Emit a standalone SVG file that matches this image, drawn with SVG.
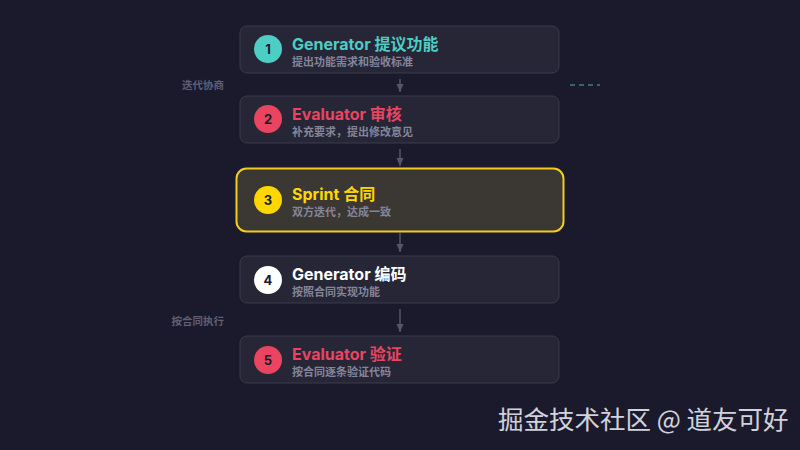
<svg xmlns="http://www.w3.org/2000/svg" width="800" height="450" viewBox="0 0 800 450">
<defs>
<style>
.box{fill:#262637;stroke:#3a3a4e;stroke-width:1}
.title{font-family:Inter,"Noto Sans CJK SC",sans-serif;font-size:16px;font-weight:700}
.sub{font-family:"Noto Sans CJK SC",sans-serif;font-size:11px;font-weight:700;fill:#85859a}
.num{font-family:Inter,sans-serif;font-size:13px;font-weight:700;fill:#1a1a2e;text-anchor:middle}
.side{font-family:"Noto Sans CJK SC",sans-serif;font-size:10.5px;font-weight:700;fill:#5f5f75;text-anchor:end}
.conn{stroke:#55556a;stroke-width:1.5;fill:none}
</style>
<marker id="arr" viewBox="0 0 10 10" refX="9" refY="5" markerWidth="9" markerHeight="9" markerUnits="userSpaceOnUse" orient="auto">
<path d="M0,1 L9,5 L0,9 Z" fill="#55556a"/>
</marker>
</defs>
<rect width="800" height="450" fill="#1b1a2d"/>
<g id="connectors">
<line class="conn" x1="400" y1="79" x2="400" y2="92" marker-end="url(#arr)"/>
<line class="conn" x1="400" y1="149" x2="400" y2="166" marker-end="url(#arr)"/>
<line class="conn" x1="400" y1="233" x2="400" y2="252" marker-end="url(#arr)"/>
<line class="conn" x1="400" y1="309" x2="400" y2="332" marker-end="url(#arr)"/>
<line x1="570" y1="85" x2="600" y2="85" stroke="#3d7f80" stroke-width="1.5" stroke-dasharray="5,4"/>
</g>
<g id="side-labels">
<text class="side" x="224" y="89">迭代协商</text>
<text class="side" x="224" y="325">按合同执行</text>
</g>
<g id="node1">
<rect class="box" x="240" y="26" width="319" height="47" rx="7"/>
<circle cx="268" cy="49" r="14" fill="#4ecdc4"/>
<text class="num" x="268" y="53.5">1</text>
<text class="title" x="292" y="50" fill="#4ecdc4">Generator 提议功能</text>
<text class="sub" x="292" y="66">提出功能需求和验收标准</text>
</g>
<g id="node2">
<rect class="box" x="240" y="96" width="319" height="47" rx="7"/>
<circle cx="268" cy="119" r="14" fill="#e94560"/>
<text class="num" x="268" y="123.5">2</text>
<text class="title" x="292" y="120" fill="#e94560">Evaluator 审核</text>
<text class="sub" x="292" y="136">补充要求，提出修改意见</text>
</g>
<g id="node3">
<rect x="236.5" y="168.5" width="327" height="63" rx="10" fill="#3b3834" stroke="#f2cc1c" stroke-width="2"/>
<circle cx="268" cy="200" r="14" fill="#ffd700"/>
<text class="num" x="268" y="204.5">3</text>
<text class="title" x="292" y="200" fill="#ffd700">Sprint 合同</text>
<text class="sub" x="292" y="216">双方迭代，达成一致</text>
</g>
<g id="node4">
<rect class="box" x="240" y="256" width="319" height="47" rx="7"/>
<circle cx="268" cy="280" r="14" fill="#ffffff"/>
<text class="num" x="268" y="284.5">4</text>
<text class="title" x="292" y="280" fill="#ffffff">Generator 编码</text>
<text class="sub" x="292" y="296">按照合同实现功能</text>
</g>
<g id="node5">
<rect class="box" x="240" y="336" width="319" height="47" rx="7"/>
<circle cx="268" cy="360" r="14" fill="#e94560"/>
<text class="num" x="268" y="364.5">5</text>
<text class="title" x="292" y="360" fill="#e94560">Evaluator 验证</text>
<text class="sub" x="292" y="376">按合同逐条验证代码</text>
</g>
<g id="watermark">
<text x="498" y="429" font-family="Noto Sans CJK SC,sans-serif" font-size="25.5" fill="#e6e6ee" opacity="0.9">掘金技术社区 @ 道友可好</text>
</g>
</svg>
